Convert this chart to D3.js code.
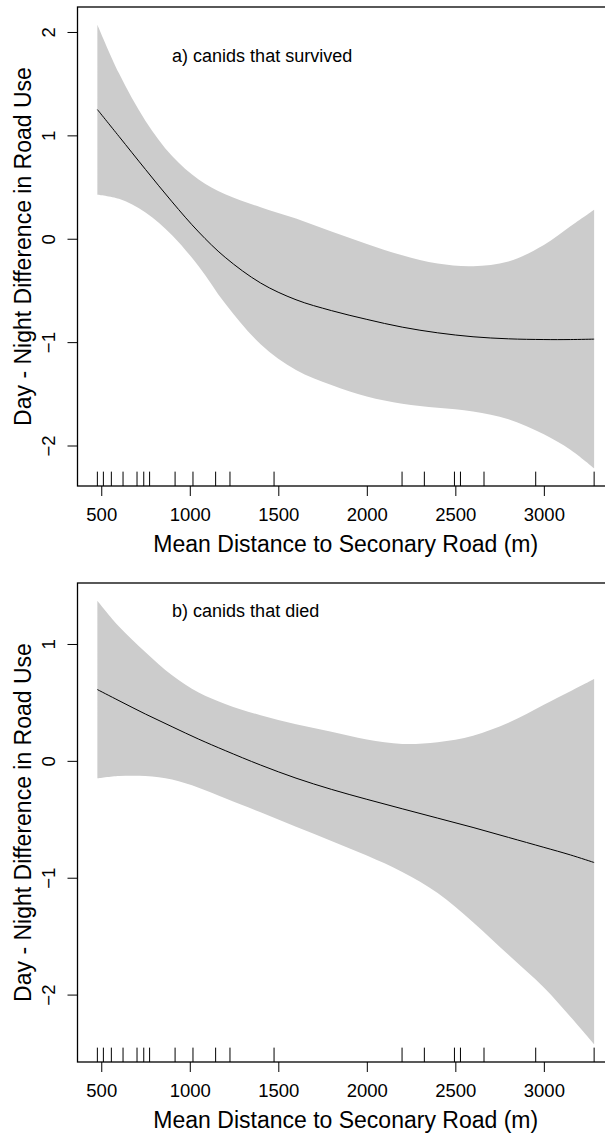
<!DOCTYPE html>
<html>
<head>
<meta charset="utf-8">
<script src="https://cdn.jsdelivr.net/npm/d3@7"></script>
<style>
  html, body { margin: 0; padding: 0; background: #fff; }
  svg { display: block; }
  text { font-family: "Liberation Sans", Arial, Helvetica, sans-serif; fill: #000; }
</style>
</head>
<body>
<svg id="chart" width="605" height="1135"></svg>
<script>
// ---- data ----
const xGrid = [478, 600, 750, 900, 1050, 1200, 1400, 1600, 1800, 2000, 2200, 2400, 2600, 2800, 3000, 3150, 3284];

const fitA   = [1.25, 0.99, 0.67, 0.357, 0.066, -0.18, -0.428, -0.59, -0.695, -0.78, -0.855, -0.91, -0.948, -0.968, -0.975, -0.975, -0.971];
const upperA = [2.07, 1.60, 1.14, 0.80, 0.573, 0.43, 0.305, 0.195, 0.07, -0.05, -0.16, -0.24, -0.265, -0.22, -0.06, 0.12, 0.28];
const lowerA = [0.426, 0.386, 0.255, 0.035, -0.266, -0.627, -1.02, -1.27, -1.415, -1.525, -1.595, -1.635, -1.67, -1.745, -1.89, -2.04, -2.22];

const fitB   = [0.61, 0.515, 0.40, 0.292, 0.186, 0.088, -0.036, -0.148, -0.244, -0.329, -0.41, -0.49, -0.57, -0.655, -0.74, -0.805, -0.87];
const upperB = [1.37, 1.15, 0.93, 0.733, 0.585, 0.487, 0.39, 0.313, 0.249, 0.183, 0.145, 0.16, 0.215, 0.325, 0.48, 0.595, 0.70];
const lowerB = [-0.15, -0.13, -0.13, -0.16, -0.23, -0.32, -0.44, -0.563, -0.685, -0.81, -0.95, -1.13, -1.38, -1.66, -1.94, -2.19, -2.425];

const rugValues = [478, 512, 557, 623, 702, 740, 773, 917, 1018, 1146, 1227, 1476, 2199, 2325, 2495, 2529, 2662, 2954, 3284];

const xTicks = [500, 1000, 1500, 2000, 2500, 3000];
const yTicksA = [-2, -1, 0, 1, 2];
const yTicksB = [-2, -1, 0, 1];

const labelA = "a) canids that survived";
const labelB = "b) canids that died";
const xTitle = "Mean Distance to Seconary Road (m)";
const yTitle = "Day - Night Difference in Road Use";

// ---- layout ----
const svg = d3.select("#chart");
const left = 77.5, right = 614;
const panels = [
  { top: 7,   bottom: 486,  fit: fitA, upper: upperA, lower: lowerA, yTicks: yTicksA, label: labelA, labelY: 62 },
  { top: 583, bottom: 1062, fit: fitB, upper: upperB, lower: lowerB, yTicks: yTicksB, label: labelB, labelY: 617 }
];

const rugExt = d3.extent(rugValues);
const xPad = 0.04 * (rugExt[1] - rugExt[0]);
const x = d3.scaleLinear().domain([rugExt[0] - xPad, rugExt[1] + xPad]).range([left, right]);
const curve = d3.curveCatmullRom.alpha(0.5);

panels.forEach(p => {
  const ymin = d3.min(p.lower), ymax = d3.max(p.upper);
  const yPad = 0.04 * (ymax - ymin);
  const y = d3.scaleLinear().domain([ymin - yPad, ymax + yPad]).range([p.bottom, p.top]);
  const g = svg.append("g");
  const pts = xGrid.map((v, i) => ({ x: v, f: p.fit[i], u: p.upper[i], l: p.lower[i] }));

  // confidence band
  g.append("path")
    .datum(pts)
    .attr("fill", "#cccccc")
    .attr("d", d3.area().curve(curve)
      .x(d => x(d.x)).y0(d => y(d.l)).y1(d => y(d.u)));

  // fitted line
  g.append("path")
    .datum(pts)
    .attr("fill", "none")
    .attr("stroke", "#000")
    .attr("stroke-width", 1)
    .attr("d", d3.line().curve(curve).x(d => x(d.x)).y(d => y(d.f)));

  // rug
  const rugLen = 0.03 * (p.bottom - p.top);
  g.selectAll(".rug").data(rugValues).join("line")
    .attr("x1", d => x(d)).attr("x2", d => x(d))
    .attr("y1", p.bottom).attr("y2", p.bottom - rugLen)
    .attr("stroke", "#000").attr("stroke-width", 1);

  // frame
  g.append("rect")
    .attr("x", left).attr("y", p.top)
    .attr("width", right - left).attr("height", p.bottom - p.top)
    .attr("fill", "none").attr("stroke", "#000").attr("stroke-width", 1.3);

  // x axis
  const xa = g.append("g").attr("transform", `translate(0,${p.bottom})`)
    .call(d3.axisBottom(x).tickValues(xTicks).tickSize(10).tickSizeOuter(0).tickFormat(d3.format("d")));
  xa.select(".domain").remove();
  xa.selectAll("line").attr("stroke", "#000").attr("stroke-width", 1);
  xa.selectAll("text").attr("y", 35).attr("dy", 0)
    .style("font-size", "18.5px").style("font-family", "'Liberation Sans', Arial, sans-serif").attr("fill", "#000");

  // y axis
  const ya = g.append("g").attr("transform", `translate(${left},0)`)
    .call(d3.axisLeft(y).tickValues(p.yTicks).tickSize(10).tickSizeOuter(0).tickFormat(d => d < 0 ? "\u2212" + Math.abs(d) : d));
  ya.select(".domain").remove();
  ya.selectAll("line").attr("stroke", "#000").attr("stroke-width", 1);
  ya.selectAll("text")
    .attr("x", null).attr("dy", 0)
    .attr("text-anchor", "middle")
    .attr("transform", "translate(-22.5,0) rotate(-90)")
    .style("font-size", "18.5px").style("font-family", "'Liberation Sans', Arial, sans-serif").attr("fill", "#000");

  // titles
  g.append("text")
    .attr("x", (left + right) / 2).attr("y", p.bottom + 66)
    .attr("text-anchor", "middle")
    .style("font-size", "23px")
    .text(xTitle);
  g.append("text")
    .attr("transform", `translate(31,${(p.top + p.bottom) / 2}) rotate(-90)`)
    .attr("text-anchor", "middle")
    .style("font-size", "23px")
    .text(yTitle);

  // panel label
  g.append("text")
    .attr("x", x(900)).attr("y", p.labelY)
    .attr("text-anchor", "start")
    .style("font-size", "18px")
    .text(p.label);
});
</script>
</body>
</html>
